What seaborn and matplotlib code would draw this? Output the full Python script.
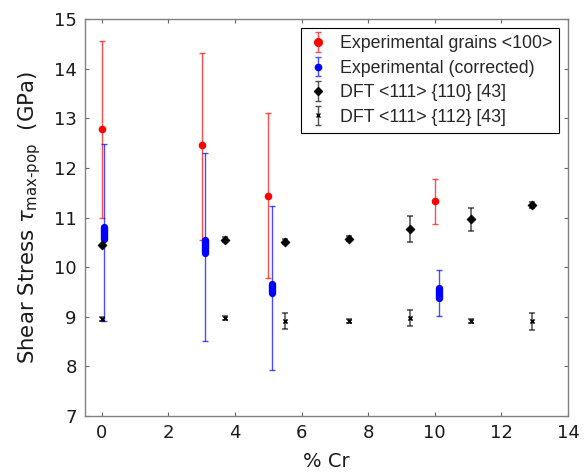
import numpy as np
import pandas as pd
import matplotlib
matplotlib.use("Agg")
import matplotlib.pyplot as plt
from matplotlib.legend_handler import HandlerErrorbar
import seaborn as sns

# ---- data ----
exp_x = [0.0, 3.0, 5.0, 10.0]
exp_y = [12.79, 12.46, 11.44, 11.33]
exp_lo = [11.00, 10.55, 9.79, 10.88]
exp_hi = [14.57, 14.33, 13.11, 11.78]

cor_x = [0.08, 3.1, 5.1, 10.12]
cor_band_lo = [10.56, 10.28, 9.48, 9.37]
cor_band_hi = [10.81, 10.54, 9.67, 9.59]
cor_lo = [8.92, 8.51, 7.93, 9.02]
cor_hi = [12.48, 12.31, 11.23, 9.94]

dft_x = [0.0, 3.71, 5.51, 7.42, 9.26, 11.1, 12.92]
dft110_y = [10.45, 10.55, 10.51, 10.57, 10.77, 10.97, 11.25]
dft110_err = [0.0, 0.05, 0.05, 0.05, 0.26, 0.23, 0.06]
dft112_y = [8.95, 8.98, 8.92, 8.92, 8.98, 8.91, 8.91]
dft112_err = [0.04, 0.04, 0.16, 0.04, 0.16, 0.04, 0.17]

labels = ["Experimental grains <100>", "Experimental (corrected)",
          "DFT <111> {110} [43]", "DFT <111> {112} [43]"]
xticks = [0, 2, 4, 6, 8, 10, 12, 14]
yticks = [7, 8, 9, 10, 11, 12, 13, 14, 15]

sns.set_style("white")
plt.rcParams['font.family'] = ['DejaVu Sans']
plt.rcParams['mathtext.fontset'] = 'dejavusans'

fig = plt.figure(figsize=(5.84, 4.73), dpi=100)
ax = fig.add_axes([85 / 584, 1 - 416 / 473, (568 - 85) / 584, (416 - 19.3) / 473])

RED, BLUE, BLK = (1, 0, 0), (0, 0, 1), (0, 0, 0)
CAP = 2.5

# error bars
exp_y_a = np.array(exp_y)
ax.errorbar(exp_x, exp_y, yerr=[exp_y_a - np.array(exp_lo), np.array(exp_hi) - exp_y_a],
            fmt='none', ecolor=RED, elinewidth=1.0, capsize=CAP, capthick=1.0, alpha=0.7)
cor_mid = (np.array(cor_band_lo) + np.array(cor_band_hi)) / 2
ax.errorbar(cor_x, cor_mid, yerr=[cor_mid - np.array(cor_lo), np.array(cor_hi) - cor_mid],
            fmt='none', ecolor=BLUE, elinewidth=1.0, capsize=CAP, capthick=1.0, alpha=0.7)
ax.errorbar(dft_x, dft110_y, yerr=dft110_err, fmt='none', ecolor=BLK,
            elinewidth=1.1, capsize=CAP, capthick=1.1, alpha=0.7)
ax.errorbar(dft_x, dft112_y, yerr=dft112_err, fmt='none', ecolor=BLK,
            elinewidth=1.1, capsize=CAP, capthick=1.1, alpha=0.7)

# corrected bands (thick rounded segments)
for x, lo, hi in zip(cor_x, cor_band_lo, cor_band_hi):
    ax.plot([x, x], [lo, hi], color=BLUE, lw=5.3, solid_capstyle='round', zorder=3)

# markers via seaborn
df_exp = pd.DataFrame({"x": exp_x, "y": exp_y})
sns.scatterplot(data=df_exp, x="x", y="y", ax=ax, color=RED, marker='o', s=30,
                edgecolor=RED, linewidth=0, zorder=4, legend=False)
df110 = pd.DataFrame({"x": dft_x, "y": dft110_y})
sns.scatterplot(data=df110, x="x", y="y", ax=ax, color=BLK, marker='D', s=20,
                edgecolor=BLK, linewidth=0.6, zorder=4, legend=False)
df112 = pd.DataFrame({"x": dft_x, "y": dft112_y})
sns.scatterplot(data=df112, x="x", y="y", ax=ax, color=BLK, marker='x', s=9,
                linewidth=1.2, zorder=4, legend=False)

# legend proxies
h1 = ax.errorbar([np.nan], [np.nan], yerr=[1], fmt='o', color=RED, ms=5.5, elinewidth=1,
                 capsize=CAP, ecolor=(1, 0.3, 0.3))
h2 = ax.errorbar([np.nan], [np.nan], yerr=[1], fmt='o', color=BLUE, ms=4.5, elinewidth=1,
                 capsize=CAP, ecolor=(0.3, 0.3, 1))
h3 = ax.errorbar([np.nan], [np.nan], yerr=[1], fmt='D', color=BLK, ms=4, elinewidth=1,
                 capsize=CAP, ecolor=(0.3, 0.3, 0.3))
h4 = ax.errorbar([np.nan], [np.nan], yerr=[1], fmt='x', color=BLK, ms=2.5, elinewidth=1,
                 capsize=CAP, ecolor=(0.3, 0.3, 0.3))
leg = ax.legend([h1, h2, h3, h4], labels, loc='upper right',
                prop={'family': 'Liberation Sans', 'size': 12.8},
                frameon=True, fancybox=False, edgecolor='black', framealpha=1,
                borderpad=0.4, labelspacing=0.42, handlelength=1.2, handletextpad=0.6,
                borderaxespad=0.5,
                handler_map={type(h1): HandlerErrorbar(xerr_size=0.55)})
leg.get_frame().set_linewidth(0.8)

ax.set_xlim(-0.5, 14)
ax.set_ylim(7, 15)
ax.set_xticks(xticks)
ax.set_yticks(yticks)
ax.tick_params(direction='in', length=3, width=0.8, color='#666666', labelsize=13,
               bottom=True, left=True, top=True, right=True, labelcolor='#1a1a1a', pad=6)
for sp in ax.spines.values():
    sp.set_color('#808080')
    sp.set_linewidth(1.0)
ax.set_xlabel('% Cr', fontsize=14, color='#1a1a1a', labelpad=7)
ylab = r'Shear Stress $\tau_{\mathrm{max' + '\u2010' + r'pop}}$  (GPa)'
ax.set_ylabel(ylab, fontsize=15.3, color='#1a1a1a', labelpad=8)

fig.savefig("out.png", dpi=100)
